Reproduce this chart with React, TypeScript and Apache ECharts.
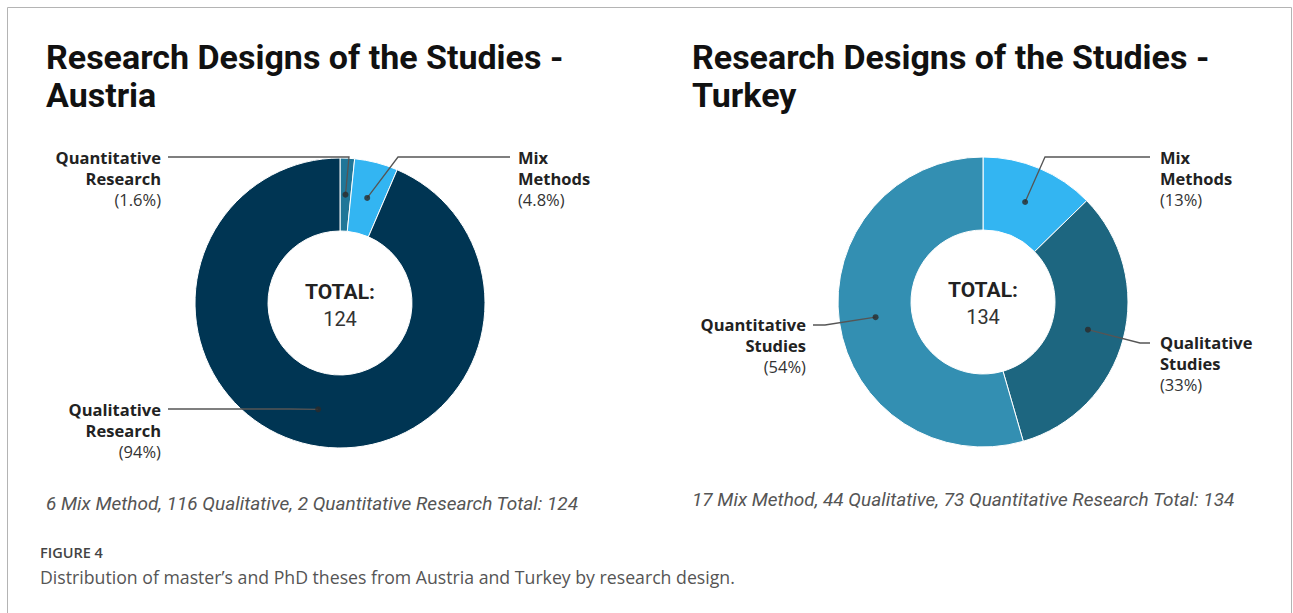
import React, { useEffect, useRef } from 'react';
import * as echarts from 'echarts';

// ---------- data ----------
const austriaCategories = ['Quantitative\nResearch', 'Mix\nMethods', 'Qualitative\nResearch'];
const austriaValues = [2, 6, 116];
const austriaColors = ['#1f7698', '#33b5f2', '#003553'];

const turkeyCategories = ['Mix\nMethods', 'Qualitative\nStudies', 'Quantitative\nStudies'];
const turkeyValues = [17, 44, 73];
const turkeyColors = ['#33b5f2', '#1d6680', '#338fb2'];

const titles = ['Research Designs of the Studies -\nAustria', 'Research Designs of the Studies -\nTurkey'];
const notes = [
  '6 Mix Method, 116 Qualitative, 2 Quantitative Research Total: 124',
  '17 Mix Method, 44 Qualitative, 73 Quantitative Research Total: 134',
];
const figureLabel = 'FIGURE 4';
const figureCaption = 'Distribution of master\u2019s and PhD theses from Austria and Turkey by research design.';

// ---------- layout ----------
const OUTER_R = 145;
const INNER_R = 72;
const DOT_R = (OUTER_R + INNER_R) / 2;
const centerA: [number, number] = [340, 303];
const centerT: [number, number] = [983, 302];

type LabelCfg = { x: number; y: number; align: 'left' | 'right'; bendX: number; endX: number; lineY: number };
const austriaLabelCfg: LabelCfg[] = [
  { x: 161, y: 146.5, align: 'right', bendX: 349, endX: 168, lineY: 157 },
  { x: 518, y: 146.5, align: 'left', bendX: 398, endX: 510, lineY: 157 },
  { x: 161, y: 398.5, align: 'right', bendX: 290, endX: 168, lineY: 409 },
];
const turkeyLabelCfg: LabelCfg[] = [
  { x: 1160, y: 146.5, align: 'left', bendX: 1045, endX: 1150, lineY: 157 },
  { x: 1160, y: 331.5, align: 'left', bendX: 1140, endX: 1150, lineY: 343 },
  { x: 806, y: 313.5, align: 'right', bendX: 825, endX: 813, lineY: 325 },
];

const sum = (a: number[]) => a.reduce((s, v) => s + v, 0);
const midValues = (vals: number[]) => {
  let acc = 0;
  return vals.map((v) => {
    const m = acc + v / 2;
    acc += v;
    return m;
  });
};

// label overlay pie has its outer radius at DOT_R, so the library's first
// label-line point (outer edge, mid angle) is exactly the dot position
const makeLayout = (cfg: LabelCfg[]) => (params: any) => {
  const c = cfg[params.dataIndex];
  const pts = params.labelLinePoints;
  const dot = pts && pts.length ? pts[0] : [c.bendX, c.lineY];
  return {
    x: c.x,
    y: c.y,
    align: c.align,
    verticalAlign: 'top',
    labelLinePoints: [dot, [c.bendX, c.lineY], [c.endX, c.lineY]],
  };
};

const labelFormatter = (p: any) => {
  const pct = Number(Number(p.percent).toPrecision(2));
  const lines = String(p.name).split('\n').map((l) => `{n|${l}}`);
  return lines.join('\n') + `\n{p|(${pct}%)}`;
};

const rich = {
  n: { fontFamily: 'Open Sans', fontWeight: 'bold', fontSize: 16.5, color: '#222', lineHeight: 21 },
  p: { fontFamily: 'Open Sans', fontSize: 16.5, color: '#333', lineHeight: 21 },
};

const pieSeries = (name: string, cats: string[], vals: number[], colors: string[], center: [number, number]) => ({
  type: 'pie',
  name,
  center,
  radius: [INNER_R, OUTER_R],
  startAngle: 90,
  clockwise: true,
  silent: true,
  z: 2,
  itemStyle: { borderColor: '#ffffff', borderWidth: 1 },
  label: { show: false },
  labelLine: { show: false },
  data: cats.map((c, i) => ({ name: c, value: vals[i], itemStyle: { color: colors[i] } })),
});

const labelPieSeries = (name: string, cats: string[], vals: number[], center: [number, number], cfg: LabelCfg[]) => ({
  type: 'pie',
  name: name + ' labels',
  center,
  radius: [0, DOT_R],
  startAngle: 90,
  clockwise: true,
  avoidLabelOverlap: false,
  silent: true,
  z: 4,
  itemStyle: { color: 'rgba(0,0,0,0)', borderWidth: 0 },
  label: { show: true, position: 'outside', formatter: labelFormatter, rich },
  labelLine: { show: true, length: 10, length2: 10, lineStyle: { color: '#555', width: 1.3 } },
  labelLayout: makeLayout(cfg),
  data: cats.map((c, i) => ({ name: c, value: vals[i] })),
});

const dotSeries = (vals: number[], polarIndex: number) => ({
  type: 'scatter',
  coordinateSystem: 'polar',
  polarIndex,
  symbol: 'circle',
  symbolSize: 6,
  silent: true,
  z: 5,
  itemStyle: { color: '#2a2a2a' },
  data: midValues(vals).map((m) => [DOT_R, m]),
});

const hiddenAngle = (polarIndex: number, max: number) => ({
  polarIndex,
  type: 'value',
  min: 0,
  max,
  startAngle: 90,
  clockwise: true,
  show: false,
  axisLine: { show: false },
  splitLine: { show: false },
  axisLabel: { show: false },
  axisTick: { show: false },
});
const hiddenRadius = (polarIndex: number) => ({
  polarIndex,
  type: 'value',
  min: 0,
  max: OUTER_R,
  show: false,
  axisLine: { show: false },
  splitLine: { show: false },
  axisLabel: { show: false },
  axisTick: { show: false },
});

export default function App() {
  const ref = useRef<HTMLDivElement>(null);
  useEffect(() => {
    if (!ref.current) return;
    const chart = echarts.init(ref.current, undefined, { renderer: 'svg' });
    const totalA = sum(austriaValues);
    const totalT = sum(turkeyValues);
    const titleStyle = { font: 'bold 34px Roboto', fill: '#111', lineHeight: 38 };
    const option: any = {
      animation: false,
      backgroundColor: '#ffffff',
      polar: [
        { center: centerA, radius: OUTER_R },
        { center: centerT, radius: OUTER_R },
      ],
      angleAxis: [hiddenAngle(0, totalA), hiddenAngle(1, totalT)],
      radiusAxis: [hiddenRadius(0), hiddenRadius(1)],
      graphic: [
        {
          type: 'rect',
          silent: true,
          shape: { x: 7.5, y: 7.5, width: 1284, height: 700 },
          style: { fill: 'none', stroke: '#b4b4b4', lineWidth: 1 },
        },
        { type: 'text', silent: true, x: 46, y: 38, style: { ...titleStyle, text: titles[0] } },
        { type: 'text', silent: true, x: 692, y: 38, style: { ...titleStyle, text: titles[1] } },
        {
          type: 'text', silent: true, x: centerA[0], y: 291.5,
          style: { text: 'TOTAL:', font: 'bold 21px Roboto', fill: '#222', align: 'center', verticalAlign: 'middle' },
        },
        {
          type: 'text', silent: true, x: centerA[0], y: 318.5,
          style: { text: String(totalA), font: '20px Roboto', fill: '#333', align: 'center', verticalAlign: 'middle' },
        },
        {
          type: 'text', silent: true, x: centerT[0], y: 290,
          style: { text: 'TOTAL:', font: 'bold 21px Roboto', fill: '#222', align: 'center', verticalAlign: 'middle' },
        },
        {
          type: 'text', silent: true, x: centerT[0], y: 317,
          style: { text: String(totalT), font: '20px Roboto', fill: '#333', align: 'center', verticalAlign: 'middle' },
        },
        {
          type: 'text', silent: true, x: 46, y: 503,
          style: { text: notes[0], font: 'italic 19px Roboto', fill: '#555', verticalAlign: 'middle' },
        },
        {
          type: 'text', silent: true, x: 692, y: 499,
          style: { text: notes[1], font: 'italic 19px Roboto', fill: '#555', verticalAlign: 'middle' },
        },
        {
          type: 'text', silent: true, x: 40, y: 552,
          style: { text: figureLabel, font: '600 14.5px "Open Sans"', fill: '#444', verticalAlign: 'middle' },
        },
        {
          type: 'text', silent: true, x: 40, y: 577,
          style: { text: figureCaption, font: '17.7px "Open Sans"', fill: '#555', verticalAlign: 'middle' },
        },
      ],
      series: [
        pieSeries('Austria', austriaCategories, austriaValues, austriaColors, centerA),
        pieSeries('Turkey', turkeyCategories, turkeyValues, turkeyColors, centerT),
        labelPieSeries('Austria', austriaCategories, austriaValues, centerA, austriaLabelCfg),
        labelPieSeries('Turkey', turkeyCategories, turkeyValues, centerT, turkeyLabelCfg),
        dotSeries(austriaValues, 0),
        dotSeries(turkeyValues, 1),
      ],
    };
    chart.setOption(option);
    return () => chart.dispose();
  }, []);
  return (
    <div
      ref={ref}
      style={{ position: 'absolute', left: 0, top: 0, width: 1293, height: 613, background: '#fff' }}
    />
  );
}
